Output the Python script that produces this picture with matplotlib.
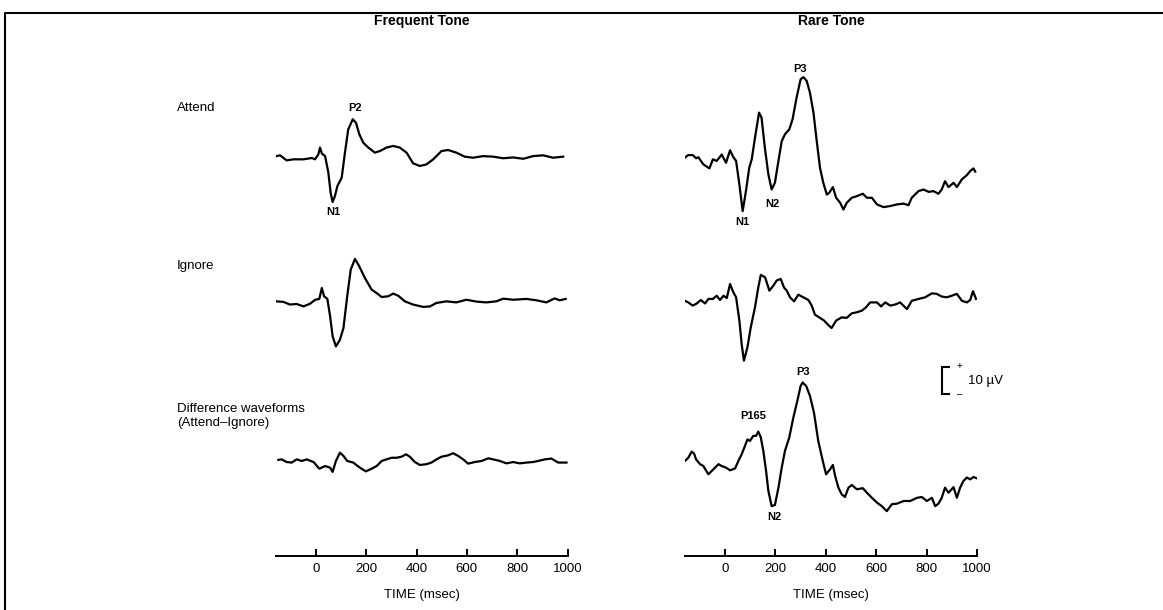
import matplotlib
matplotlib.use("Agg")
import matplotlib.pyplot as plt
from matplotlib.lines import Line2D

plt.rcParams['font.family'] = ['Liberation Sans', 'DejaVu Sans']

# --- datos (tiempo en ms, amplitud en microvoltios) ---
t_fa = [-167, -143, -117, -90, -50, -17, -4, 9, 16, 23, 36, 49, 58, 66, 75, 85, 102,
        115, 128, 146, 159, 172, 188, 208, 234, 254, 280, 307, 333, 360, 386, 413,
        439, 466, 499, 525, 558, 591, 624, 664, 704, 744, 784, 824, 863, 903, 943, 983]
v_fa = [0.4, 0.9, -1.0, -0.6, -0.6, -0.1, -0.6, 1.2, 3.8, 1.6, 0.6, -5.6, -13.1, -16.6,
        -14.4, -10.6, -7.5, 1.9, 10.6, 14.4, 13.1, 8.8, 5.6, 3.8, 1.9, 2.5, 3.8, 4.4,
        3.8, 1.9, -2.1, -3.1, -2.5, -0.6, 2.5, 2.9, 1.9, 0.4, 0.0, 0.6, 0.4, -0.2, 0.1,
        -0.4, 0.6, 0.9, 0.0, 0.4]

t_fi = [-159, -130, -104, -77, -50, -24, -3, 13, 23, 32, 45, 56, 66, 79, 95, 109, 124,
        138, 155, 172, 194, 221, 241, 261, 287, 307, 327, 353, 386, 426, 453, 479, 519,
        558, 598, 638, 677, 717, 744, 784, 837, 876, 916, 949, 969, 993]
v_fi = [0.0, -0.2, -1.2, -1.0, -1.9, -0.9, 0.6, 0.9, 5.0, 1.9, 0.9, -5.6, -13.1, -16.9,
        -14.4, -10.0, 1.9, 11.9, 15.9, 13.1, 8.8, 4.4, 3.1, 1.6, 1.9, 2.9, 2.1, 0.0,
        -1.2, -2.1, -1.9, -0.6, 0.0, -0.4, 0.6, -0.1, -0.4, 0.0, 1.0, 0.6, 0.9, 0.4,
        -0.4, 1.1, 0.4, 0.9]

t_fd = [-150, -137, -117, -97, -77, -57, -37, -10, 13, 36, 56, 66, 79, 95, 109, 124,
        148, 174, 198, 221, 241, 261, 280, 300, 320, 340, 358, 373, 393, 413, 439, 459,
        479, 499, 525, 545, 565, 585, 605, 631, 658, 685, 704, 731, 757, 784, 810, 837,
        863, 883, 910, 936, 963, 976, 996]
v_fd = [0.4, 0.6, -0.4, -0.6, 0.6, 0.0, 0.6, -0.4, -2.9, -1.9, -2.5, -4.1, 0.0, 3.1,
        1.9, 0.0, -0.6, -2.5, -3.9, -2.9, -1.9, 0.0, 0.6, 1.2, 1.2, 1.6, 2.5, 1.6, -0.4,
        -1.5, -1.2, -0.6, 0.6, 1.6, 2.1, 2.9, 1.9, 0.6, -1.0, -0.4, 0.0, 1.0, 0.6, 0.0,
        -0.9, -0.4, -0.9, -0.6, -0.4, 0.0, 0.6, 0.9, -0.6, -0.6, -0.6]

t_ra = [-163, -146, -128, -115, -106, -86, -62, -48, -33, -13, 4, 20, 33, 44, 57, 70,
        83, 96, 106, 119, 135, 145, 158, 172, 185, 198, 212, 225, 238, 255, 268, 284,
        300, 311, 324, 337, 351, 364, 377, 390, 404, 414, 428, 441, 457, 470, 483, 503,
        523, 547, 563, 583, 603, 629, 656, 682, 709, 728, 741, 768, 788, 808, 827, 847,
        860, 873, 887, 907, 920, 940, 960, 973, 986, 993]
v_ra = [-0.2, 1.0, 1.0, -0.2, 0.2, -2.5, -4.0, -0.6, -1.2, 1.2, -1.9, 2.8, 0.2, -1.2,
        -10.0, -20.0, -12.5, -3.8, -0.6, 7.5, 16.9, 15.0, 3.8, -6.2, -11.9, -9.4, -1.2,
        6.2, 8.8, 10.6, 14.4, 22.5, 29.4, 30.2, 28.8, 24.4, 16.9, 6.2, -3.8, -9.4,
        -13.8, -13.1, -11.0, -15.0, -16.9, -19.4, -16.9, -15.0, -14.4, -13.5, -15.0,
        -15.0, -17.5, -18.5, -18.1, -17.5, -17.2, -17.8, -15.0, -12.5, -11.9, -12.8,
        -12.5, -13.5, -11.9, -8.8, -11.0, -9.4, -11.0, -8.1, -6.5, -5.0, -4.0, -5.2]

t_ri = [-159, -146, -128, -112, -96, -79, -66, -48, -33, -20, -6, 7, 20, 33, 44, 57, 66,
        75, 89, 102, 119, 132, 142, 159, 176, 192, 205, 221, 234, 245, 258, 274, 291,
        311, 331, 344, 357, 377, 393, 406, 423, 441, 463, 483, 503, 523, 543, 560, 576,
        603, 619, 636, 656, 675, 695, 722, 741, 768, 794, 821, 840, 860, 880, 900, 920,
        940, 960, 973, 984, 996]
v_ri = [0.2, -0.4, -1.6, -0.8, 0.5, -0.8, 0.9, 0.9, 2.1, 0.5, 2.1, 1.2, 6.5, 3.4, 1.5,
        -7.2, -16.0, -22.2, -17.2, -9.8, -2.2, 5.2, 9.9, 9.0, 4.0, 5.9, 7.8, 8.4, 5.2,
        4.0, 1.5, 0.0, 2.5, 1.5, 0.5, -1.6, -5.0, -6.2, -7.2, -8.5, -10.0, -7.2, -6.0,
        -6.2, -4.5, -4.1, -3.5, -2.2, -0.4, -0.4, -1.9, -0.4, -1.6, -1.2, -0.4, -2.9,
        0.2, 0.9, 1.5, 3.0, 2.8, 1.8, 1.5, 2.1, 2.8, 0.2, -0.4, 0.5, 3.8, 0.9]

t_rd = [-159, -146, -132, -123, -115, -99, -86, -66, -46, -26, -13, 4, 20, 40, 53, 66,
        79, 89, 99, 112, 123, 132, 142, 152, 163, 172, 185, 198, 212, 225, 238, 255,
        271, 287, 300, 308, 322, 337, 353, 370, 388, 401, 417, 428, 437, 450, 463, 476,
        490, 503, 523, 547, 563, 583, 603, 622, 642, 662, 682, 709, 735, 762, 781, 801,
        821, 834, 847, 860, 873, 887, 907, 920, 933, 946, 960, 973, 986, 999]
v_rd = [0.0, 1.2, 3.5, 2.8, 0.6, -1.2, -1.9, -5.0, -3.1, -1.2, -1.9, -2.5, -3.5, -2.8,
        0.0, 2.5, 5.6, 8.1, 7.5, 9.4, 9.4, 11.0, 8.8, 3.8, -3.8, -11.2, -16.9, -16.5,
        -10.0, -2.5, 3.8, 8.8, 16.2, 22.5, 28.1, 29.4, 28.1, 24.4, 18.1, 7.5, 0.0, -5.0,
        -3.1, -1.5, -5.6, -10.0, -12.5, -13.5, -10.0, -9.0, -10.6, -10.2, -11.9, -13.8,
        -15.6, -16.9, -18.8, -16.2, -16.0, -15.0, -15.0, -13.8, -13.5, -15.0, -13.8,
        -16.9, -16.0, -13.8, -10.0, -11.9, -9.8, -13.8, -10.0, -7.5, -6.2, -6.9, -6.0,
        -6.5]

ticks = [0, 200, 400, 600, 800, 1000]
titulos = ['Frequent Tone', 'Rare Tone']
filas = ['Attend', 'Ignore', 'Difference waveforms\n(Attend\u2013Ignore)']

# desplazamiento vertical de cada fila (en uV sobre el eje)
offsets = [149.2, 95.4, 35.6]

W, H = 1163, 610
fig = plt.figure(figsize=(W / 100, H / 100), dpi=100)


def px(x, y):
    return x / W, 1 - y / H


ax1 = fig.add_axes([275.8 / W, 54 / H, 291.7 / W, 516 / H])
ax2 = fig.add_axes([684.7 / W, 54 / H, 292.3 / W, 516 / H])

for ax, curvas in [(ax1, [(t_fa, v_fa), (t_fi, v_fi), (t_fd, v_fd)]),
                   (ax2, [(t_ra, v_ra), (t_ri, v_ri), (t_rd, v_rd)])]:
    for (t, v), off in zip(curvas, offsets):
        ax.plot(t, [a + off for a in v], color='black', lw=1.6)
    ax.set_xlim(-160, 1000)
    ax.set_ylim(0, 193.3)
    for s in ['top', 'left', 'right']:
        ax.spines[s].set_visible(False)
    ax.spines['bottom'].set_linewidth(1.4)
    ax.set_yticks([])
    ax.set_xticks(ticks)
    ax.tick_params(axis='x', direction='in', length=5, width=1.4, pad=5, labelsize=9.5)
    ax.set_xlabel('TIME (msec)', fontsize=9.5, labelpad=10)
    ax.patch.set_alpha(0)

# titulos de columna
fig.text(*px(422, 21), titulos[0], ha='center', va='center', fontsize=10, fontweight='bold')
fig.text(*px(831, 21), titulos[1], ha='center', va='center', fontsize=10, fontweight='bold')

# etiquetas de fila
fig.text(*px(177, 108), filas[0], ha='left', va='center', fontsize=9.5)
fig.text(*px(177, 266), filas[1], ha='left', va='center', fontsize=9.5)
fig.text(*px(177, 416), filas[2], ha='left', va='center', fontsize=9.5, linespacing=1.3)

# etiquetas de picos
kw = dict(ha='center', va='center', fontsize=8, fontweight='bold')
ax1.text(155, 167.8, 'P2', **kw)
ax1.text(68, 128.8, 'N1', **kw)
ax2.text(298, 182.5, 'P3', **kw)
ax2.text(186, 131.8, 'N2', **kw)
ax2.text(67, 125, 'N1', **kw)
ax2.text(308, 68.8, 'P3', **kw)
ax2.text(111, 52.5, 'P165', **kw)
ax2.text(194, 14.6, 'N2', **kw)

# barra de escala 10 uV
ax2.plot([889, 861, 861, 889], [70.8, 70.8, 60.8, 60.8], color='black', lw=1.5,
         clip_on=False, solid_joinstyle='miter')
ax2.text(930, 71.3, '+', ha='center', va='center', fontsize=7)
ax2.text(930, 60.8, '\u2013', ha='center', va='center', fontsize=7)
ax2.text(964, 65.5, '10 \u00b5V', ha='left', va='center', fontsize=9.5, clip_on=False)

# marco de la figura
fig.add_artist(Line2D([5 / W, 5 / W, 1], [0, 1 - 13 / H, 1 - 13 / H],
                      transform=fig.transFigure, color='black', lw=1.5))

fig.savefig('out.png', dpi=100)
